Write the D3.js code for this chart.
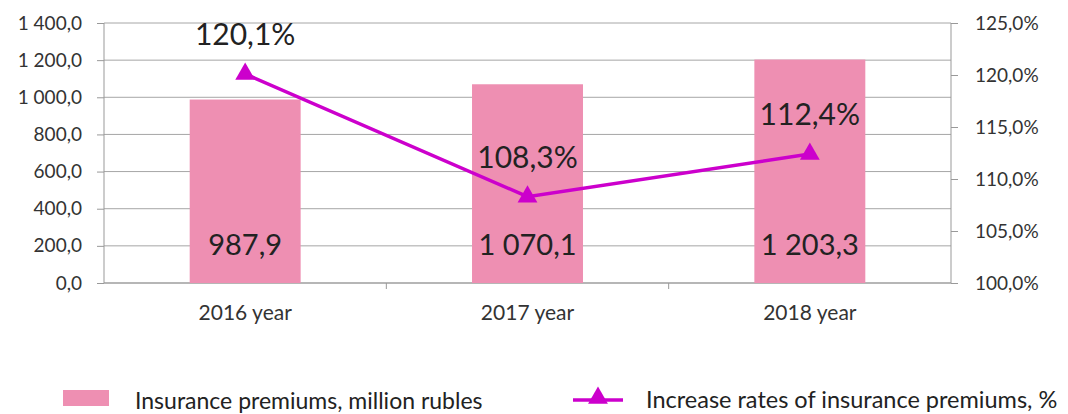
<!DOCTYPE html>
<html lang="en">
<head>
    <meta charset="UTF-8">
    <title>Insurance premiums</title>
    <script src="https://d3js.org/d3.v7.min.js"></script>
    <style>
        body { margin: 0; background: white; font-family: Lato, sans-serif; }
        .axis text { font-size: 19px; fill: #333; font-family: Lato, sans-serif; }
        .axis path, .axis line { stroke: #999; }
    </style>
</head>
<body>
<script>
    // data
    var years = ["2016 year", "2017 year", "2018 year"];
    var premiums = [987.9, 1070.1, 1203.3];
    var rates = [120.1, 108.3, 112.4];
    var leftTicks = [0, 200, 400, 600, 800, 1000, 1200, 1400];
    var rightTicks = [100, 105, 110, 115, 120, 125];

    var W = 1068, H = 414;
    var m = { left: 104, right: 117, top: 23, bottom: 131 };
    var pw = W - m.left - m.right, ph = H - m.top - m.bottom;

    var fmt1 = function (v) {
        var s = v.toFixed(1).replace(".", ",");
        var parts = s.split(",");
        parts[0] = parts[0].replace(/\B(?=(\d{3})+(?!\d))/g, " ");
        return parts.join(",");
    };
    var fmtPct = d => d.toFixed(1).replace(".", ",") + "%";

    var svg = d3.select("body").append("svg")
        .attr("width", W).attr("height", H);

    var g = svg.append("g").attr("transform", "translate(" + m.left + "," + m.top + ")");

    var x = d3.scaleBand().domain(years).range([0, pw]);
    var yL = d3.scaleLinear().domain([0, 1400]).range([ph, 0]);
    var yR = d3.scaleLinear().domain([100, 125]).range([ph, 0]);

    // gridlines
    g.append("g").selectAll("line").data(leftTicks).enter().append("line")
        .attr("x1", 0).attr("x2", pw)
        .attr("y1", d => yL(d)).attr("y2", d => yL(d))
        .attr("stroke", "#a6a6a6").attr("stroke-width", 1);

    // left axis
    g.append("g").attr("class", "axis")
        .call(d3.axisLeft(yL).tickValues(leftTicks).tickFormat(fmt1).tickSize(7).tickPadding(15))
        .call(a => a.select(".domain").attr("d", "M0,0V" + ph));

    // right axis
    g.append("g").attr("class", "axis").attr("transform", "translate(" + pw + ",0)")
        .call(d3.axisRight(yR).tickValues(rightTicks).tickFormat(fmtPct).tickSize(7).tickPadding(17))
        .call(a => a.select(".domain").attr("d", "M0,0V" + ph));

    // bottom axis
    var xa = g.append("g").attr("class", "axis").attr("transform", "translate(0," + ph + ")")
        .call(d3.axisBottom(x).tickSize(0).tickPadding(22));
    xa.select(".domain").attr("d", "M0,0H" + pw);
    xa.selectAll("text").style("font-size", "21px");
    // category separators
    xa.selectAll(".sep").data(years.slice(1)).enter().append("line")
        .attr("x1", d => x(d)).attr("x2", d => x(d))
        .attr("y1", 0).attr("y2", 6).attr("stroke", "#999");

    // bars
    var bw = x.bandwidth() * 0.393;
    g.selectAll(".bar").data(premiums).enter().append("rect")
        .attr("x", (d, i) => x(years[i]) + x.bandwidth() / 2 - bw / 2)
        .attr("y", d => yL(d))
        .attr("width", bw)
        .attr("height", d => ph - yL(d))
        .attr("fill", "#ee8fb2");

    g.selectAll(".barlabel").data(premiums).enter().append("text")
        .attr("x", (d, i) => x(years[i]) + x.bandwidth() / 2)
        .attr("y", ph - 28)
        .attr("text-anchor", "middle")
        .style("font-size", "29px").style("fill", "#222")
        .text(d => fmt1(d));

    // line
    var cx = (d, i) => x(years[i]) + x.bandwidth() / 2;
    var line = d3.line().x(cx).y(d => yR(d));
    g.append("path").datum(rates)
        .attr("d", line).attr("fill", "none")
        .attr("stroke", "#cc00cc").attr("stroke-width", 3.5);

    var tri = d3.symbol().type(d3.symbolTriangle).size(170);
    g.selectAll(".pt").data(rates).enter().append("path")
        .attr("d", tri)
        .attr("transform", (d, i) => "translate(" + cx(d, i) + "," + yR(d) + ")")
        .attr("fill", "#cc00cc");

    g.selectAll(".ratelabel").data(rates).enter().append("text")
        .attr("x", cx)
        .attr("y", d => yR(d) - 29)
        .attr("text-anchor", "middle")
        .style("font-size", "30px").style("fill", "#222")
        .text(fmtPct);

    // legend
    var lg = svg.append("g");
    lg.append("rect").attr("x", 63).attr("y", 390).attr("width", 46).attr("height", 16)
        .attr("fill", "#ee8fb2");
    lg.append("text").attr("x", 135).attr("y", 409)
        .style("font-size", "23px").style("fill", "#222")
        .text("Insurance premiums, million rubles");
    lg.append("line").attr("x1", 573).attr("x2", 623).attr("y1", 400).attr("y2", 400)
        .attr("stroke", "#cc00cc").attr("stroke-width", 3.5);
    lg.append("path").attr("d", tri).attr("transform", "translate(598,398)").attr("fill", "#cc00cc");
    lg.append("text").attr("x", 646).attr("y", 408)
        .style("font-size", "23.5px").style("fill", "#222")
        .text("Increase rates of insurance premiums, %");
</script>
</body>
</html>
